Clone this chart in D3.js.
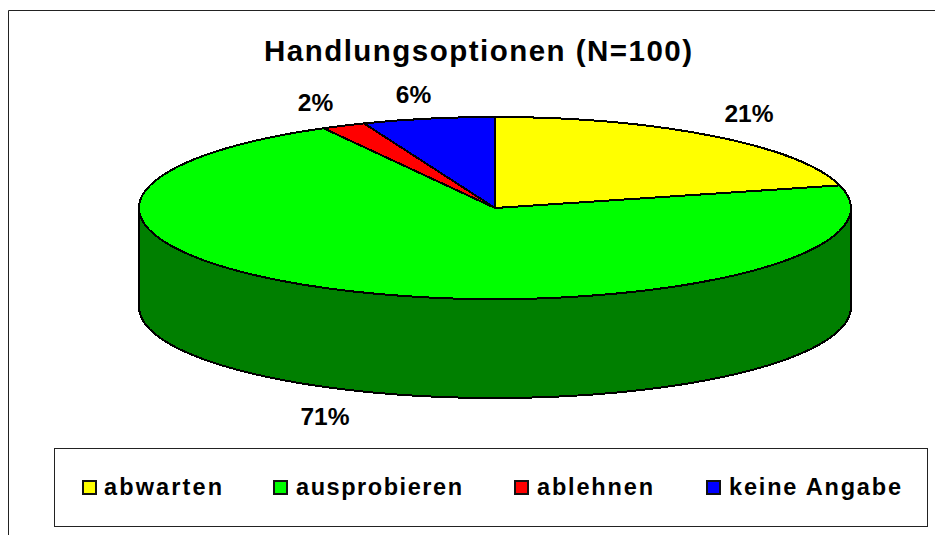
<!DOCTYPE html>
<html><head><meta charset="utf-8">
<script src="https://cdn.jsdelivr.net/npm/d3@7"></script>
<style>html,body{margin:0;padding:0;background:#fff;overflow:hidden}svg{display:block}text{font-family:"Liberation Sans",Arial,sans-serif;font-weight:bold;fill:#000}</style>
</head><body><svg width="935" height="535"></svg>
<script>
const categories=["abwarten","ausprobieren","ablehnen","keine Angabe"];
const values=[21,71,2,6];
const topColors=["#ffff00","#00ff00","#ff0000","#0000ff"];
const wallColor="#007f00";
const labels=["21%","71%","2%","6%"];
const title="Handlungsoptionen (N=100)";
const cx=495,cy=208,rx=356,ry=91,depth=99;
const svg=d3.select("svg");
svg.append("path").attr("d","M935 10.5H8.5V535").attr("fill","none").attr("stroke","#222").attr("stroke-width",1);
svg.append("text").text(title).attr("x",478).attr("y",61).attr("text-anchor","middle").attr("font-size",29.5).attr("textLength",428);
const arcs=d3.pie().sort(null).value(d=>d)(values);
const px=d3.scaleLinear().domain([-1,1]).range([cx-rx,cx+rx]);
const py=d3.scaleLinear().domain([-1,1]).range([cy-ry,cy+ry]);
const pt=(a,dy)=>[px(Math.sin(a)),py(-Math.cos(a))+dy];
const angles=d3.range(90,271,2).map(d=>d*Math.PI/180);
const wall=[...angles.map(a=>pt(a,0)),...angles.slice().reverse().map(a=>pt(a,depth))];
svg.append("path").attr("d",d3.line()(wall)+"Z").attr("fill",wallColor).attr("stroke","#000").attr("stroke-width",2).attr("stroke-linejoin","round").attr("shape-rendering","crispEdges");
const g=svg.append("g").attr("transform",`translate(${cx},${cy}) scale(1,${ry/rx})`);
const arc=d3.arc().innerRadius(0).outerRadius(rx);
g.selectAll("path").data(arcs).join("path").attr("d",arc).attr("fill",(d,i)=>topColors[i]).attr("stroke","#000").attr("stroke-width",2).attr("vector-effect","non-scaling-stroke").attr("stroke-linejoin","round").attr("shape-rendering","crispEdges");
const labelPos=[[749,122],[325,425],[315.5,111],[413.5,103]];
svg.selectAll("text.v").data(labels).join("text").attr("class","v").text(d=>d).attr("x",(d,i)=>labelPos[i][0]).attr("y",(d,i)=>labelPos[i][1]).attr("text-anchor","middle").attr("font-size",24.5);
svg.append("rect").attr("x",54.5).attr("y",448.5).attr("width",873).attr("height",78).attr("fill","#fff").attr("stroke","#222");
const swatchX=[83,274,515,707];
const textX=[104,296,537,729];
const textW=[118,166,116,172];
svg.selectAll("rect.s").data(categories).join("rect").attr("class","s").attr("x",(d,i)=>swatchX[i]).attr("y",481).attr("width",13).attr("height",13).attr("fill",(d,i)=>topColors[i]).attr("stroke","#111").attr("stroke-width",2);
svg.selectAll("text.l").data(categories).join("text").attr("class","l").text(d=>d).attr("x",(d,i)=>textX[i]).attr("y",495).attr("textLength",(d,i)=>textW[i]).attr("font-size",23.5);
</script></body></html>
